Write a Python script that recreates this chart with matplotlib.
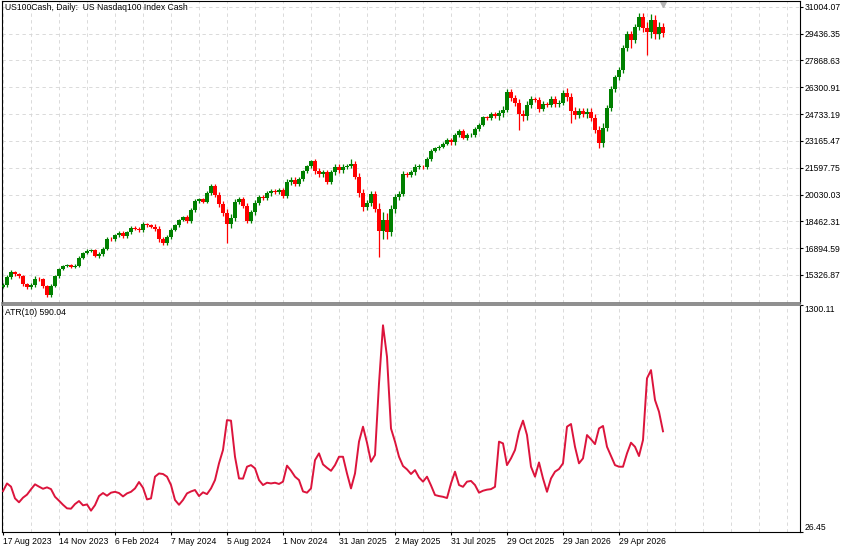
import numpy as np
import matplotlib
matplotlib.use("Agg")
import matplotlib.pyplot as plt
import matplotlib.transforms as mtransforms

plt.rcParams['font.family'] = ['Liberation Sans', 'DejaVu Sans']

title = "US100Cash, Daily:  US Nasdaq100 Index Cash"
atr_title = "ATR(10) 590.04"

# weekly-ish candles (one bar ~ 4.5 sessions)
first_open = 14650
closes = [14750, 15220, 15480, 15370, 15250, 14780, 14620, 14720, 15120, 15070,
          14660, 14170, 14690, 15250, 15680, 15850, 15920, 15800, 15880, 16330,
          16600, 16750, 16780, 16430, 16560, 16850, 17440, 17410, 17650, 17780,
          17590, 17820, 18090, 18040, 17960, 18300, 18220, 18150, 18040, 17410,
          17220, 17530, 17960, 18230, 18550, 18710, 18480, 19130, 19640, 19750,
          19610, 20120, 20530, 19990, 19470, 18940, 18330, 18640, 19600, 19740,
          19350, 18500, 18990, 19550, 19900, 19810, 20090, 20210, 20180, 20290,
          19960, 20750, 20900, 20670, 20910, 21390, 21670, 21960, 21380, 21220,
          21330, 20780, 21330, 21630, 21480, 21640, 21670, 21830, 21060, 20110,
          19320, 19520, 20080, 19170, 17880, 18530, 17820, 19170, 19870, 20080,
          21220, 21180, 21330, 21640, 21660, 21630, 22090, 22580, 22720, 22820,
          23000, 23240, 23070, 23500, 23750, 23360, 23490, 23530, 23850, 24120,
          24530, 24490, 24760, 24610, 24770, 24990, 26010, 25660, 25390, 24730,
          24610, 25270, 25600, 25550, 25020, 25340, 25250, 25630, 25310, 25400,
          25990, 25720, 24930, 24670, 24900, 24710, 24840, 24520, 23810, 23060,
          23940, 25080, 26190, 26880, 27300, 28590, 29380, 29060, 29820, 30400,
          29760, 29520, 30230, 29410, 29820, 29470]
highs = [14850, 15340, 15590, 15570, 15450, 15340, 14870, 14830, 15240, 15230,
         15180, 14770, 14800, 15340, 15760, 15920, 15980, 15980, 15950, 16410,
         16670, 16820, 16840, 16850, 16650, 16950, 17530, 17540, 17750, 17880,
         17870, 17920, 18190, 18200, 18160, 18410, 18380, 18310, 18280, 18180,
         17550, 17660, 18080, 18310, 18620, 18790, 18810, 19230, 19740, 19840,
         19850, 20220, 20670, 20660, 20150, 19660, 19200, 18900, 19780, 19870,
         19870, 19510, 19150, 19700, 20030, 20020, 20210, 20330, 20330, 20410,
         20410, 20910, 21050, 21030, 21040, 21490, 21770, 22060, 22130, 21570,
         21490, 21480, 21480, 21790, 21810, 21820, 21810, 22080, 21970, 21270,
         20360, 19730, 20250, 20260, 19510, 19000, 18930, 19410, 20080, 20260,
         21380, 21370, 21470, 21790, 21790, 21780, 22220, 22690, 22810, 22910,
         23090, 23330, 23360, 23650, 23870, 23860, 23610, 23650, 23970, 24220,
         24630, 24630, 24870, 24870, 24980, 25200, 26170, 26190, 25850, 25630,
         24990, 25500, 25760, 25730, 25720, 25470, 25440, 25760, 25780, 25550,
         26150, 26240, 25970, 25130, 25060, 25080, 25070, 25060, 24730, 24050,
         24190, 25280, 26370, 27040, 27460, 28750, 29570, 29590, 30020, 30650,
         30620, 30110, 30600, 30530, 30120, 30060]
lows = [14550, 14630, 15110, 15280, 15170, 14690, 14530, 14510, 14600, 14960,
        14550, 14040, 14060, 14600, 15170, 15610, 15790, 15740, 15730, 15800,
        16260, 16530, 16690, 16360, 16340, 16460, 16760, 17310, 17310, 17550,
        17500, 17490, 17720, 17930, 17840, 17850, 18140, 18060, 17910, 17270,
        17060, 17090, 17410, 17880, 18160, 18470, 18380, 18380, 19030, 19550,
        19510, 19510, 20010, 19860, 19310, 18750, 17180, 18070, 18460, 19470,
        19220, 18340, 18340, 18840, 19420, 19690, 19690, 19970, 20060, 20060,
        19840, 19800, 20600, 20540, 20540, 20810, 21290, 21560, 21210, 21030,
        21060, 20630, 20630, 21170, 21300, 21300, 21500, 21560, 20920, 19900,
        19070, 19110, 19350, 18990, 16390, 17410, 17420, 17580, 18960, 19690,
        19920, 21030, 21040, 21180, 21510, 21510, 21500, 21980, 22490, 22630,
        22730, 22910, 22950, 22920, 23380, 23250, 23240, 23370, 23410, 23750,
        24020, 24390, 24380, 24500, 24400, 24560, 24830, 25480, 25200, 23800,
        24350, 24380, 25110, 25420, 24850, 24890, 25150, 25120, 25160, 25160,
        25240, 25470, 24200, 24470, 24510, 24530, 24480, 24300, 23600, 22740,
        22810, 23740, 24900, 26030, 26720, 27140, 28400, 28570, 28860, 29640,
        29540, 28180, 29150, 29110, 29110, 29230]
atr = [254, 297, 279, 213, 191, 217, 234, 264, 292, 279,
       267, 275, 265, 222, 200, 177, 157, 155, 181, 198,
       174, 179, 144, 175, 226, 243, 228, 245, 250, 243,
       224, 241, 250, 269, 305, 273, 207, 213, 335, 353,
       350, 335, 288, 204, 177, 204, 241, 252, 260, 226,
       247, 237, 269, 316, 410, 485, 653, 650, 447, 325,
       324, 391, 400, 382, 316, 288, 301, 297, 301, 294,
       307, 397, 369, 335, 316, 252, 245, 269, 428, 466,
       404, 385, 368, 400, 447, 447, 353, 269, 353, 532,
       616, 526, 419, 457, 859, 1186, 1009, 606, 532, 447,
       395, 376, 350, 372, 331, 307, 335, 286, 232, 226,
       222, 215, 297, 363, 288, 278, 307, 311, 288, 245,
       256, 262, 265, 278, 532, 522, 400, 438, 485, 588,
       650, 569, 391, 335, 415, 325, 250, 325, 363, 378,
       410, 616, 631, 503, 410, 438, 569, 545, 518, 606,
       620, 503, 451, 400, 391, 391, 466, 526, 503, 451,
       541, 888, 934, 766, 700, 590.04]

price_levels = [15326.87, 16894.59, 18462.31, 20030.03, 21597.75, 23165.47,
                24733.19, 26300.91, 27868.63, 29436.35, 31004.07]
atr_levels = [26.45, 1300.11]
date_labels = ["17 Aug 2023", "14 Nov 2023", "6 Feb 2024", "7 May 2024", "5 Aug 2024",
               "1 Nov 2024", "31 Jan 2025", "2 May 2025", "31 Jul 2025", "29 Oct 2025",
               "29 Jan 2026", "29 Apr 2026"]
date_pos = [0, 14, 28, 42, 56, 70, 84, 98, 112, 126, 140, 154]

opens = [first_open] + closes[:-1]
x = np.arange(len(closes))
o = np.array(opens, dtype=float)
c = np.array(closes, dtype=float)
h = np.array(highs, dtype=float)
l = np.array(lows, dtype=float)
colors = np.where(c >= o, '#008000', '#ff0000')

W, H = 850, 550
fig = plt.figure(figsize=(8.5, 5.5), dpi=100)
ax = fig.add_axes([2 / W, 1 - 303 / H, 798 / W, 302 / H])
ax2 = fig.add_axes([2 / W, 1 - 532 / H, 798 / W, 227 / H], sharex=ax)

grid_kw = dict(color='#d4d4d4', lw=0.6, ls=(0, (4, 4)), zorder=0)
for a in (ax, ax2):
    for gx in np.arange(0, 199, 7):
        a.axvline(gx - 0.1, **grid_kw)
for gy in price_levels:
    ax.axhline(gy, **grid_kw)

# candles
ax.vlines(x, l, h, colors=colors, lw=0.9, zorder=2)
body = np.maximum(np.abs(c - o), 30)
ax.bar(x, body, bottom=np.minimum(o, c), width=0.8, color=colors, linewidth=0, zorder=3)

ax.set_xlim(-0.25, 199.25)
ax.set_ylim(13690, 31337)
ax.yaxis.tick_right()
ax.set_yticks(price_levels)
ax.set_yticklabels([f"{v:.2f}" for v in price_levels])
ax.tick_params(axis='y', direction='out', length=2.5, width=0.8, pad=1, labelsize=6.2)
ax.tick_params(axis='x', bottom=False, labelbottom=False)
ax.text(0.0038, 0.977, title, transform=ax.transAxes, fontsize=6.2, va='center', ha='left')
trans = mtransforms.blended_transform_factory(ax.transData, ax.transAxes)
ax.plot([165], [0.99], marker='v', color='#b4b4b4', ms=4, transform=trans, clip_on=False)

# ATR sub-window
ax2.plot(x, atr, color='#dc143c', lw=1.4, zorder=3)
ax2.set_ylim(24, 1300.11)
ax2.yaxis.tick_right()
ax2.set_yticks(atr_levels)
ax2.set_yticklabels([f"{v:.2f}" for v in atr_levels])
ax2.tick_params(axis='y', direction='out', length=2.5, width=0.8, pad=1, labelsize=6.2)
ylabels = ax2.get_yticklabels()
ylabels[0].set_verticalalignment('bottom')
ylabels[1].set_verticalalignment('top')
ax2.set_xticks(date_pos)
ax2.set_xticklabels(date_labels)
ax2.tick_params(axis='x', direction='out', length=2.5, width=0.8, pad=1, labelsize=6.2)
for t in ax2.get_xticklabels():
    t.set_horizontalalignment('left')
ax2.text(0.0038, 0.969, atr_title, transform=ax2.transAxes, fontsize=6.2, va='center', ha='left')

for a in (ax, ax2):
    for s in a.spines.values():
        s.set_linewidth(0.8)
        s.set_color('black')
ax.spines['bottom'].set_color('#7a7a7a')
ax.spines['bottom'].set_linewidth(1.2)
ax2.spines['top'].set_color('#7a7a7a')
ax2.spines['top'].set_linewidth(1.2)

fig.savefig("out.png", dpi=100, facecolor='white')
